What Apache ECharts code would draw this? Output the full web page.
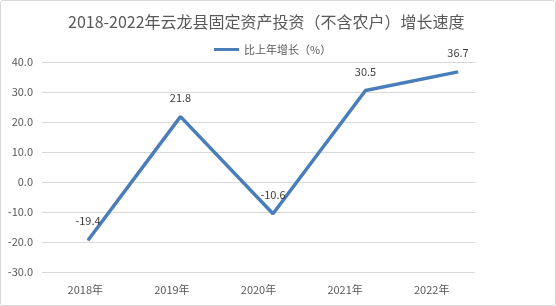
<!DOCTYPE html>
<html>
<head>
<meta charset="utf-8">
<script src="https://cdn.jsdelivr.net/npm/echarts@6/dist/echarts.min.js"></script>
<style>
html,body{margin:0;padding:0;background:#fff;}
#wrap{width:556px;height:306px;box-sizing:border-box;border:1px solid #d9d9d9;border-radius:3px;overflow:hidden;}
#chart{width:554px;height:304px;}
</style>
</head>
<body>
<div id="wrap"><div id="chart"></div></div>
<script>
const titleText = '2018-2022年云龙县固定资产投资（不含农户）增长速度';
const seriesName = '比上年增长（%）';
const categories = ['2018年', '2019年', '2020年', '2021年', '2022年'];
const growth = [-19.4, 21.8, -10.6, 30.5, 36.7];
const yTicks = [-30, -20, -10, 0, 10, 20, 30, 40];

const FONT = '"Liberation Sans Narrow", "Noto Sans CJK SC", sans-serif';
const chart = echarts.init(document.getElementById('chart'));
chart.setOption({
  animation: false,
  textStyle: { fontFamily: FONT },
  title: {
    text: titleText,
    left: 62, top: 8,
    textStyle: { fontSize: 16, fontWeight: 'normal', color: '#595959', fontFamily: '"Noto Sans CJK SC", sans-serif' }
  },
  legend: {
    data: [seriesName],
    left: 208, top: 38,
    icon: 'rect', itemWidth: 25, itemHeight: 3, itemGap: 4,
    textStyle: { fontSize: 11, color: '#595959', fontFamily: '"Noto Sans CJK SC", sans-serif' }
  },
  grid: [
    { left: 41, right: 80, top: 61, bottom: 33 },
    { left: 87, right: 97, top: 61, bottom: 33 }
  ],
  xAxis: [
    {
      type: 'category', gridIndex: 0, data: categories, boundaryGap: true,
      axisLine: { show: false }, axisTick: { show: false },
      axisLabel: { fontSize: 11, color: '#595959', margin: 12, fontFamily: FONT }
    },
    {
      type: 'category', gridIndex: 1, data: categories, boundaryGap: false, show: false
    }
  ],
  yAxis: [
    {
      type: 'value', gridIndex: 0, min: yTicks[0], max: yTicks[yTicks.length - 1], interval: 10,
      axisLine: { show: false }, axisTick: { show: false },
      axisLabel: { fontSize: 11, color: '#595959', margin: 9, formatter: v => v.toFixed(1), fontFamily: FONT },
      splitLine: { lineStyle: { color: '#d9d9d9', width: 1 } }
    },
    {
      type: 'value', gridIndex: 1, min: yTicks[0], max: yTicks[yTicks.length - 1], interval: 10, show: false,
      splitLine: { show: false }
    }
  ],
  series: [{
    name: seriesName,
    type: 'line',
    xAxisIndex: 1, yAxisIndex: 1,
    data: growth,
    symbol: 'circle', symbolSize: 1, showSymbol: true,
    lineStyle: { color: '#4a7ebb', width: 3.5 },
    itemStyle: { color: '#4a7ebb' },
    label: {
      show: true, position: 'top', distance: 13,
      fontSize: 11, color: '#404040', fontFamily: FONT,
      formatter: p => p.value.toFixed(1)
    }
  }]
});
</script>
</body>
</html>
